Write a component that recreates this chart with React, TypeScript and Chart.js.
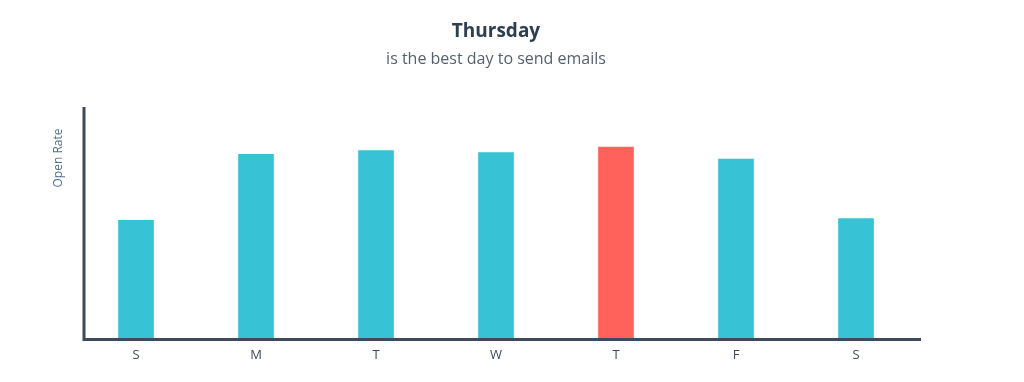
import React, { useEffect, useRef } from "react";
import { Chart, registerables } from "chart.js";

Chart.register(...registerables);

const days = ["S", "M", "T", "W", "T", "F", "S"];
const openRate = [12.8, 19.9, 20.3, 20.1, 20.7, 19.4, 13.0];
const barColors = ["#37c3d5", "#37c3d5", "#37c3d5", "#37c3d5", "#fe625a", "#37c3d5", "#37c3d5"];
const yMax = 25;
const titleText = "Thursday";
const subtitleText = "is the best day to send emails";
const yTitle = "Open Rate";

const axisColor = "#3e4a5c";

const axesPlugin = {
  id: "customAxes",
  afterDatasetsDraw(chart: any) {
    const { ctx, chartArea } = chart;
    const { left, right, top, bottom } = chartArea;
    ctx.save();
    ctx.strokeStyle = axisColor;
    ctx.lineWidth = 3;
    ctx.beginPath();
    ctx.moveTo(left + 8, top);
    ctx.lineTo(left + 8, bottom + 1.5);
    ctx.moveTo(left + 8, bottom);
    ctx.lineTo(right + 5, bottom);
    ctx.stroke();
    ctx.translate(left - 17, top + 51);
    ctx.rotate(-Math.PI / 2);
    ctx.fillStyle = "#516f90";
    ctx.font = "12px 'Open Sans'";
    ctx.textAlign = "center";
    ctx.textBaseline = "middle";
    ctx.fillText(yTitle, 0, 0);
    ctx.restore();
  },
};

export default function App() {
  const ref = useRef<HTMLCanvasElement>(null);
  useEffect(() => {
    if (!ref.current) return;
    const chart = new Chart(ref.current, {
      type: "bar",
      data: {
        labels: days,
        datasets: [
          {
            data: openRate,
            backgroundColor: barColors,
            barThickness: 35,
            borderWidth: 0,
          },
        ],
      },
      options: {
        animation: false,
        responsive: true,
        maintainAspectRatio: false,
        layout: { padding: { left: 68, right: 100, top: 0, bottom: 11 } },
        plugins: {
          legend: { display: false },
          tooltip: { enabled: false },
          title: {
            display: true,
            text: titleText,
            color: "#2d3e50",
            font: { family: "'Open Sans'", size: 19, weight: "bold" },
            padding: { top: 12, bottom: 7 },
          },
          subtitle: {
            display: true,
            text: subtitleText,
            color: "#56606e",
            font: { family: "'Open Sans'", size: 16 },
            padding: { top: 0, bottom: 38 },
          },
        },
        scales: {
          x: {
            grid: { display: false },
            border: { display: false },
            ticks: {
              color: "#3e4a5c",
              font: { family: "'Open Sans'", size: 13 },
              padding: 0,
            },
          },
          y: {
            display: false,
            min: 0,
            max: yMax,
          },
        },
      },
      plugins: [axesPlugin],
    });
    return () => chart.destroy();
  }, []);
  return (
    <div style={{ width: "100%", height: 366, position: "relative" }}>
      <canvas ref={ref} />
    </div>
  );
}
